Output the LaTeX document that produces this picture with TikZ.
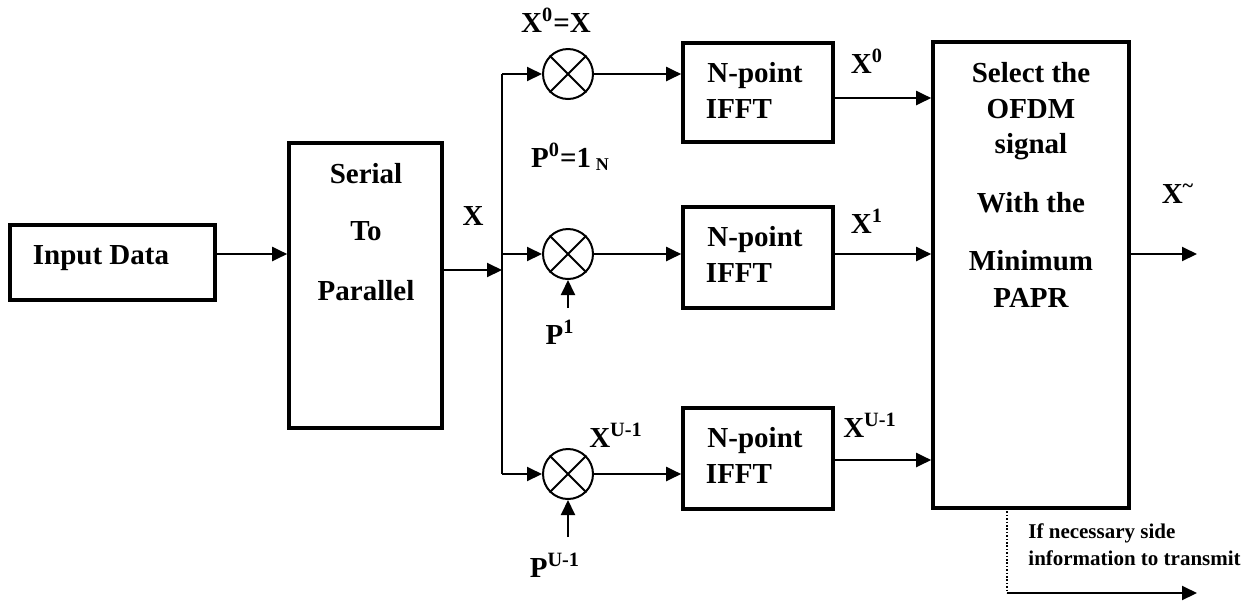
\documentclass[tikz,border=0pt]{standalone}
\usepackage{fontspec}
\setmainfont{Liberation Serif}
\usetikzlibrary{arrows.meta}
\begin{document}
\begin{tikzpicture}[x=0.5pt,y=-0.5pt,
  box/.style={draw,line width=1.8pt,inner sep=0pt},
  lbl/.style={font=\fontsize{14.5}{17}\selectfont\bfseries,inner sep=0pt,anchor=base},
  small/.style={font=\fontsize{10.5}{12}\selectfont\bfseries,inner sep=0pt,anchor=base west},
  ln/.style={line width=1pt},
  arr/.style={line width=1pt,-{Triangle[length=7.5pt,width=7pt]}},
  mix/.style={draw,circle,line width=1pt,minimum size=25pt,inner sep=0pt}]
\useasboundingbox (0,0) rectangle (1248,601);

% boxes
\node[box,minimum width=102.5pt,minimum height=37.5pt] (in) at (112.5,262.5) {};
\node[lbl] (intxt) at (101,264) {Input Data};

\node[box,minimum width=76.5pt,minimum height=142.5pt] (sp) at (365.5,285.5) {};
\node[lbl] (sp1) at (366,183) {Serial};
\node[lbl] (sp2) at (366,240) {To};
\node[lbl] (sp3) at (366,300) {Parallel};

\node[box,minimum width=75pt,minimum height=49.5pt] (f0) at (758,92.5) {};
\node[box,minimum width=75pt,minimum height=50.5pt] (f1) at (758,257.5) {};
\node[box,minimum width=75pt,minimum height=50.5pt] (f2) at (758,458.5) {};
\node[lbl] (f0a) at (755,82) {N-point};
\node[lbl] (f0b) at (739,118) {IFFT};
\node[lbl] (f1a) at (755,246) {N-point};
\node[lbl] (f1b) at (739,282) {IFFT};
\node[lbl] (f2a) at (755,447) {N-point};
\node[lbl] (f2b) at (739,483) {IFFT};

\node[box,minimum width=98pt,minimum height=233pt] (sel) at (1031,275) {};
\node[lbl] (s1) at (1031,82) {Select the};
\node[lbl] (s2) at (1031,118) {OFDM};
\node[lbl] (s3) at (1031,153) {signal};
\node[lbl] (s4) at (1031,212) {With the};
\node[lbl] (s5) at (1031,270) {Minimum};
\node[lbl] (s6) at (1031,307) {PAPR};

% mixers
\foreach \n/\y in {m0/74,m1/254,m2/474}{
  \node[mix] (\n) at (568,\y) {};
  \draw[ln] (\n.north west) -- (\n.south east);
  \draw[ln] (\n.north east) -- (\n.south west);
}

% connectors
\draw[arr] (in.east |- 0,254) -- (sp.west |- 0,254);
\coordinate (bx) at (502,270);
\coordinate (b0) at (502,74);
\coordinate (b1) at (502,254);
\coordinate (b2) at (502,474);
\draw[arr] (sp.east |- bx) -- (bx);
\draw[ln] (b0) -- (b2);
\draw[arr] (b0) -- (m0.west);
\draw[arr] (b1) -- (m1.west);
\draw[arr] (b2) -- (m2.west);
\draw[arr] (m0.east) -- (f0.west |- m0.east);
\draw[arr] (m1.east) -- (f1.west |- m1.east);
\draw[arr] (m2.east) -- (f2.west |- m2.east);

\coordinate (p1) at (568,308);
\coordinate (p2) at (568,537);
\draw[arr] (p1) -- (m1.south);
\draw[arr] (p2) -- (m2.south);

\coordinate (o0) at (833,98);
\coordinate (o1) at (833,254);
\coordinate (o2) at (833,460);
\draw[arr] (o0) -- (sel.west |- o0);
\draw[arr] (o1) -- (sel.west |- o1);
\draw[arr] (o2) -- (sel.west |- o2);

\coordinate (out) at (1197,254);
\draw[arr] (sel.east |- out) -- (out);

\coordinate (d0) at (1007,508);
\coordinate (d1) at (1007,593);
\coordinate (d2) at (1197,593);
\draw[line width=1.1pt,dash pattern=on 0.8pt off 0.9pt] (d0) -- (d1);
\draw[arr] (d1) -- (d2);

% labels
\node[lbl] (lx) at (473,225) {X};
\node[lbl] (lx0x) at (556,32) {X\textsuperscript{0}=X};
\node[lbl] (lp0) at (570,167) {P\textsuperscript{0}=1\,\raisebox{-1.5pt}{\fontsize{9}{10}\selectfont N}};
\node[lbl] (lp1) at (560,344) {P\textsuperscript{1}};
\node[lbl] (lxu) at (616,447) {X\textsuperscript{U-1}};
\node[lbl] (lpu) at (555,577) {P\textsuperscript{U-1}};
\node[lbl] (lo0) at (867,73) {X\textsuperscript{0}};
\node[lbl] (lo1) at (867,233) {X\textsuperscript{1}};
\node[lbl] (lo2) at (870,437) {X\textsuperscript{U-1}};
\node[lbl] (lout) at (1178,203) {X\textsuperscript{\textasciitilde}};
\node[small] (side1) at (1028,538) {If necessary side};
\node[small] (side2) at (1028,565) {information to transmit};
\end{tikzpicture}
\end{document}
